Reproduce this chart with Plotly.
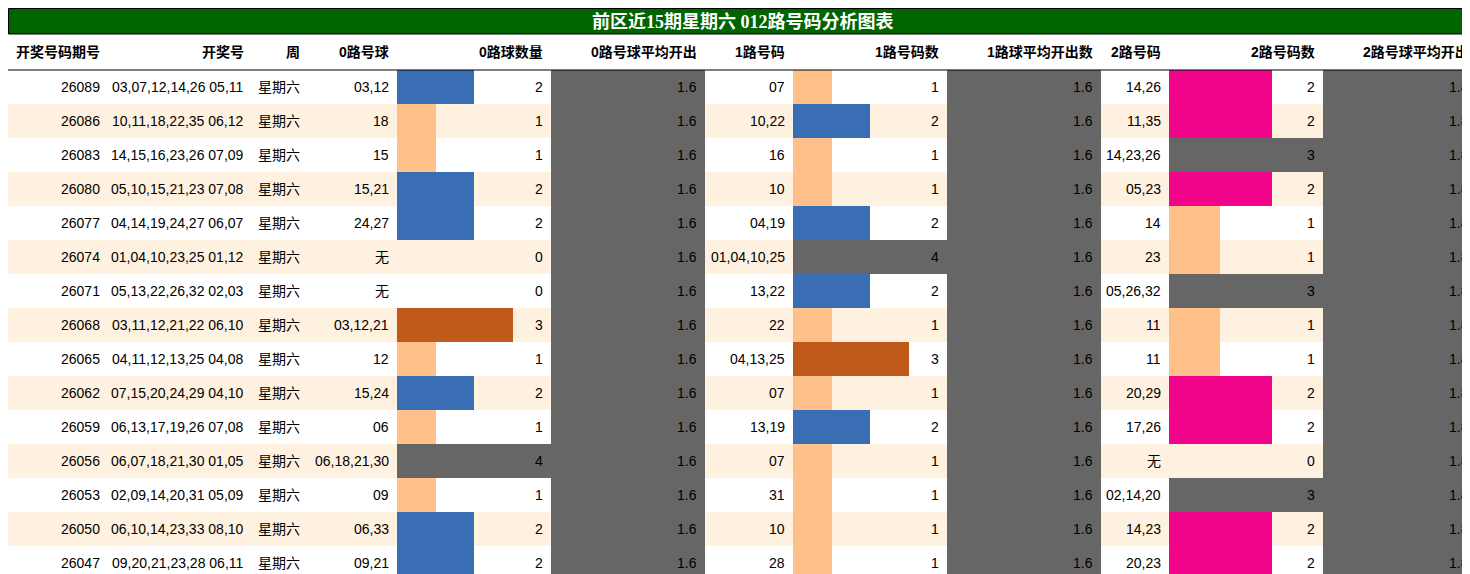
import plotly.graph_objects as go

title = "前区近15期星期六 012路号码分析图表"
headers = ["开奖号码期号","开奖号","周","0路号球","0路球数量","0路号球平均开出","1路号码","1路号码数","1路球平均开出数","2路号码","2路号码数","2路号球平均开出"]
issues = [26089,26086,26083,26080,26077,26074,26071,26068,26065,26062,26059,26056,26053,26050,26047]
draws = ["03,07,12,14,26 05,11","10,11,18,22,35 06,12","14,15,16,23,26 07,09","05,10,15,21,23 07,08",
         "04,14,19,24,27 06,07","01,04,10,23,25 01,12","05,13,22,26,32 02,03","03,11,12,21,22 06,10",
         "04,11,12,13,25 04,08","07,15,20,24,29 04,10","06,13,17,19,26 07,08","06,07,18,21,30 01,05",
         "02,09,14,20,31 05,09","06,10,14,23,33 08,10","09,20,21,23,28 06,11"]
week = ["星期六"]*15
r0_nums = ["03,12","18","15","15,21","24,27","无","无","03,12,21","12","15,24","06","06,18,21,30","09","06,33","09,21"]
r0_cnt = [2,1,1,2,2,0,0,3,1,2,1,4,1,2,2]
r0_avg = [1.6]*15
r1_nums = ["07","10,22","16","10","04,19","01,04,10,25","13,22","22","04,13,25","07","13,19","07","31","10","28"]
r1_cnt = [1,2,1,1,2,4,2,1,3,1,2,1,1,1,1]
r1_avg = [1.6]*15
r2_nums = ["14,26","11,35","14,23,26","05,23","14","23","05,26,32","11","11","20,29","17,26","无","02,14,20","14,23","20,23"]
r2_cnt = [2,2,3,2,1,1,3,1,1,2,2,0,3,2,2]
r2_avg = [1.8]*15

W, H = 1470, 574
edges = [0,100,244,300,389,543,697,785,939,1093,1161,1315,1469]
TOP, HEAD, RH = 26, 62, 34
cols = [[str(v) for v in issues], draws, week, r0_nums, [str(v) for v in r0_cnt], [f"{v:.1f}" for v in r0_avg],
        r1_nums, [str(v) for v in r1_cnt], [f"{v:.1f}" for v in r1_avg],
        r2_nums, [str(v) for v in r2_cnt], [f"{v:.1f}" for v in r2_avg]]
GRAY = "#666666"
fig = go.Figure()
shapes, ann = [], []
centers = [HEAD + RH*i + RH/2 for i in range(15)]
for i, c in enumerate(centers):
    shapes.append(dict(type="rect", x0=0, x1=edges[-1], y0=c-RH/2, y1=c+RH/2, fillcolor="#FFFFFF" if i % 2 == 0 else "#FFF1DF", line_width=0, layer="below"))
for ci in (5, 8, 11):
    shapes.append(dict(type="rect", x0=edges[ci], x1=edges[ci+1], y0=HEAD, y1=HEAD+RH*15, fillcolor=GRAY, line_width=0, layer="below"))
shapes.append(dict(type="rect", x0=0.5, x1=edges[-1], y0=0.5, y1=TOP, fillcolor="#006400", line=dict(color="black", width=1), layer="below"))
shapes.append(dict(type="line", x0=0, x1=edges[-1], y0=HEAD, y1=HEAD, line=dict(color="black", width=1.2)))

def bars(ci, cnt, mx, cmap):
    left = edges[ci]; w = edges[ci+1]-edges[ci]
    fig.add_trace(go.Bar(orientation="h", y=centers, x=[v/mx*w for v in cnt], base=[left]*15, width=RH,
                         marker=dict(color=[cmap.get(v, GRAY) for v in cnt], line_width=0), hoverinfo="skip", showlegend=False))
bars(4, r0_cnt, 4, {1:"#FFC08A",2:"#3A6EB4",3:"#C05A1A",4:GRAY})
bars(7, r1_cnt, 4, {1:"#FFC08A",2:"#3A6EB4",3:"#C05A1A",4:GRAY})
bars(10, r2_cnt, 3, {1:"#FFC08A",2:"#F0048A",3:GRAY})

font = "Liberation Sans, Noto Sans CJK SC"
ann.append(dict(x=(edges[0]+edges[-1])/2, y=TOP/2+1, text="<b>"+title+"</b>", showarrow=False, font=dict(family="Liberation Serif, Noto Sans CJK SC", size=18, color="white")))
for ci, h in enumerate(headers):
    ann.append(dict(x=edges[ci+1]-6, y=(TOP+HEAD)/2, text="<b>"+h+"</b>", xanchor="right", showarrow=False, font=dict(family=font, size=14, color="black")))
    for i, c in enumerate(centers):
        ann.append(dict(x=edges[ci+1]-6, y=c, text=cols[ci][i], xanchor="right", showarrow=False, font=dict(family=font, size=14, color="black")))

fig.update_layout(width=W, height=H, margin=dict(l=0, r=0, t=0, b=0), plot_bgcolor="white", paper_bgcolor="white",
                  shapes=shapes, annotations=ann, barmode="overlay", bargap=0,
                  xaxis=dict(range=[0, W], visible=False, fixedrange=True),
                  yaxis=dict(range=[H, 0], visible=False, fixedrange=True))
fig.write_html("out.html")
